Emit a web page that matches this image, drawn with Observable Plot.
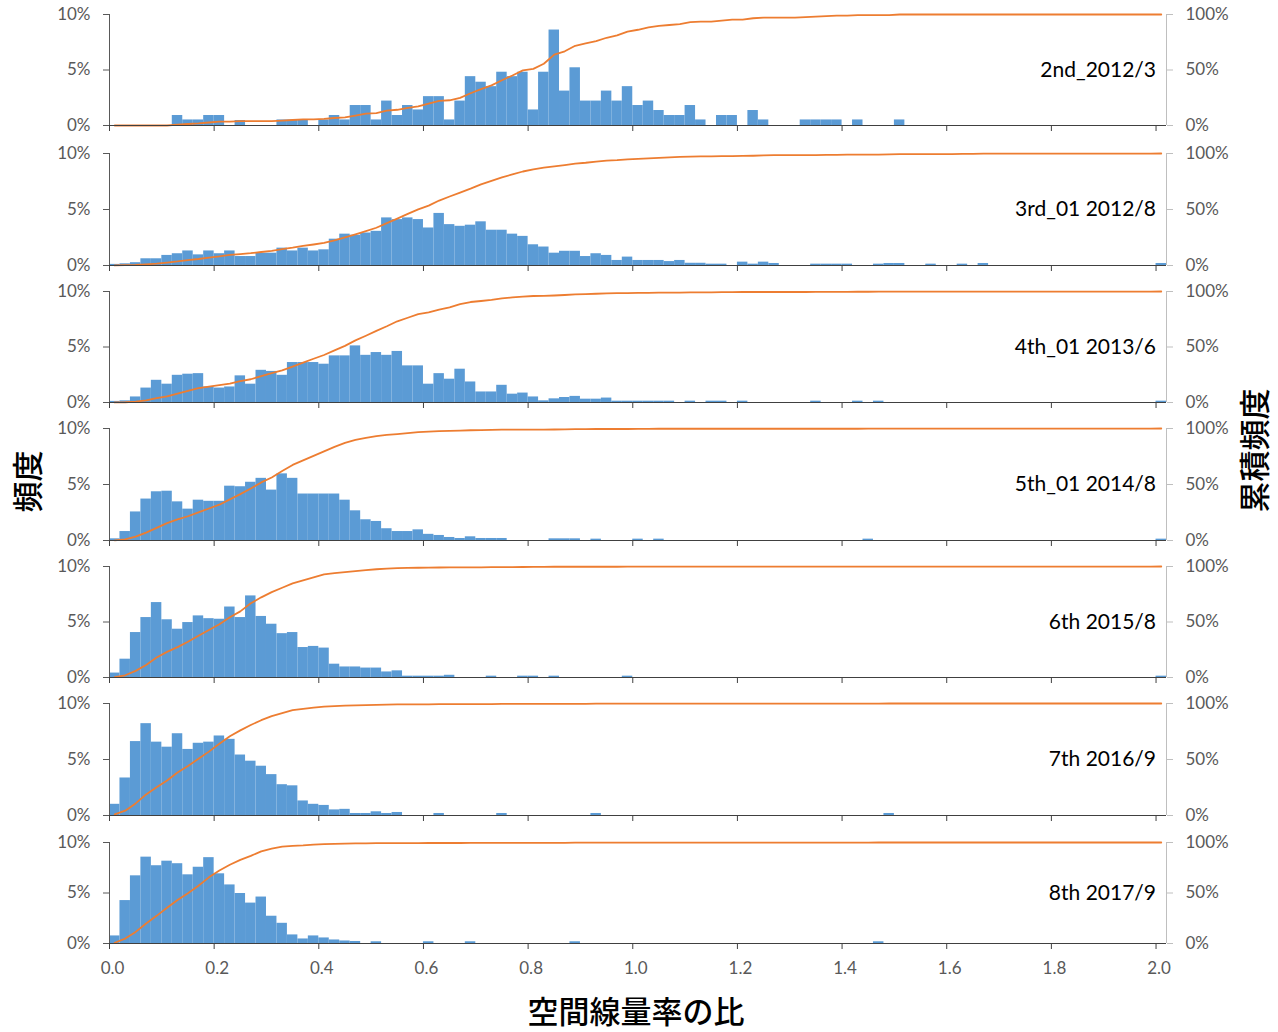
<!DOCTYPE html>
<html>
<head>
<meta charset="utf-8">
<script src="https://cdn.jsdelivr.net/npm/d3@7"></script>
<script src="https://cdn.jsdelivr.net/npm/@observablehq/plot@0.6"></script>
<style>
  html, body { margin: 0; padding: 0; background: #fff; }
  #chart { position: relative; width: 1278px; height: 1032px; background: #fff; overflow: hidden; }
  .panel { position: absolute; left: 0; }
  .title { position: absolute; font-family: "Noto Sans CJK JP", sans-serif; font-size: 31px; font-weight: 500; color: #000; white-space: nowrap; }
</style>
</head>
<body>
<div id="chart"></div>
<script>
// ---- Data (frequency in %, bins of 0.02 from 0.00 to 2.00; last bin = 2.00) ----
const binStart = d3.range(101).map(i => +(i * 0.02).toFixed(2));
const panelLabels = ["2nd_2012/3", "3rd_01 2012/8", "4th_01 2013/6", "5th_01 2014/8", "6th 2015/8", "7th 2016/9", "8th 2017/9"];
const xTickValues = [0, 0.2, 0.4, 0.6, 0.8, 1.0, 1.2, 1.4, 1.6, 1.8, 2.0];
const leftTicks = [0, 5, 10];          // %
const rightTickLabels = ["0%", "50%", "100%"];

const freq2nd = [
  0,0,0,0,0,0,0.9,0.5,0.5,0.9,
  0.9,0,0.45,0,0,0,0.5,0.5,0.5,0,
  0.5,0.9,0.5,1.8,1.8,0.5,2.2,0.9,1.8,1.4,
  2.6,2.6,0.5,2.2,4.4,3.9,3.5,4.8,4.4,4.8,
  1.4,4.8,8.6,3.1,5.2,2.2,2.2,3.1,2.2,3.5,
  1.8,2.2,1.35,0.9,0.9,1.8,0.5,0,0.9,0.9,
  0,1.35,0.5,0,0,0,0.5,0.5,0.5,0.5,
  0,0.5,0,0,0,0.5,0,0,0,0,
  0,0,0,0,0,0,0,0,0,0,
  0,0,0,0,0,0,0,0,0,0,
  0
];
const freq3rd = [
  0.1,0.15,0.25,0.6,0.6,0.9,1.05,1.3,0.95,1.3,
  1.05,1.3,0.8,0.8,1.1,1.1,1.55,1.3,1.55,1.3,
  1.4,2.35,2.8,2.7,2.9,3.05,4.25,4.1,4.25,4.1,
  3.35,4.65,3.65,3.5,3.6,3.9,3.15,3.15,2.8,2.6,
  1.85,1.65,1.1,1.27,1.27,0.8,1.05,0.9,0.45,0.75,
  0.45,0.45,0.45,0.35,0.45,0.2,0.2,0.12,0.12,0,
  0.3,0.12,0.3,0.18,0,0,0,0.12,0.12,0.12,
  0.12,0,0,0.12,0.18,0.18,0,0,0.12,0,
  0,0.12,0,0.18,0,0,0,0,0,0,
  0,0,0,0,0,0,0,0,0,0,
  0.18
];
const freq4th = [
  0.1,0.15,0.5,1.3,2.0,1.65,2.45,2.55,2.6,1.4,
  1.3,1.4,2.4,1.65,2.9,2.8,2.45,3.6,3.6,3.6,
  3.45,4.2,4.2,5.1,4.25,4.5,4.25,4.6,3.3,3.3,
  1.65,2.6,2.1,3.0,1.85,0.95,0.95,1.55,0.75,0.85,
  0.5,0.15,0.33,0.45,0.55,0.3,0.3,0.4,0.12,0.12,
  0.12,0.12,0.12,0.12,0,0.12,0,0.12,0.12,0,
  0.12,0,0,0,0,0,0,0.12,0,0,
  0,0.12,0,0.12,0,0,0,0,0,0,
  0,0,0,0,0,0,0,0,0,0,
  0,0,0,0,0,0,0,0,0,0,
  0.12
];
const freq5th = [
  0.15,0.8,2.55,3.7,4.35,4.4,3.45,2.8,3.6,3.5,
  3.5,4.85,4.8,5.2,5.55,4.5,5.95,5.55,4.15,4.15,
  4.15,4.15,3.6,2.65,1.85,1.7,1.05,0.8,0.8,0.95,
  0.55,0.45,0.27,0.18,0.33,0.18,0.18,0.18,0,0,
  0,0,0.15,0.15,0.15,0,0.12,0,0,0,
  0.12,0,0.12,0,0,0,0,0,0,0,
  0,0,0,0,0,0,0,0,0,0,
  0,0,0.12,0,0,0,0,0,0,0,
  0,0,0,0,0,0,0,0,0,0,
  0,0,0,0,0,0,0,0,0,0,
  0.12
];
const freq6th = [
  0.4,1.65,4.05,5.4,6.75,5.2,4.35,4.95,5.55,5.3,
  5.25,6.35,5.4,7.35,5.5,4.8,3.95,4.05,2.7,2.8,
  2.65,1.2,0.95,0.95,0.85,0.85,0.5,0.6,0.12,0.12,
  0.12,0.12,0.2,0,0,0,0.12,0,0,0.12,
  0.12,0,0.12,0,0,0,0,0,0,0.12,
  0,0,0,0,0,0,0,0,0,0,
  0,0,0,0,0,0,0,0,0,0,
  0,0,0,0,0,0,0,0,0,0,
  0,0,0,0,0,0,0,0,0,0,
  0,0,0,0,0,0,0,0,0,0,
  0.12
];
const freq7th = [
  1.0,3.35,6.6,8.2,6.55,6.1,7.3,5.9,6.45,6.55,
  7.1,6.8,5.4,4.85,4.4,3.65,2.75,2.65,1.3,1.0,
  0.9,0.5,0.55,0.18,0.18,0.33,0.18,0.27,0,0,
  0,0.18,0,0,0,0,0,0.18,0,0,
  0,0,0,0,0,0,0.18,0,0,0,
  0,0,0,0,0,0,0,0,0,0,
  0,0,0,0,0,0,0,0,0,0,
  0,0,0,0,0.18,0,0,0,0,0,
  0,0,0,0,0,0,0,0,0,0,
  0,0,0,0,0,0,0,0,0,0,
  0
];
const freq8th = [
  0.75,4.25,6.7,8.55,7.7,8.15,7.9,6.8,7.55,8.5,
  6.9,5.8,4.95,4.0,4.6,2.7,2.0,0.85,0.45,0.75,
  0.55,0.35,0.25,0.2,0,0.17,0,0,0,0,
  0.17,0,0,0,0.17,0,0,0,0,0,
  0,0,0,0,0.17,0,0,0,0,0,
  0,0,0,0,0,0,0,0,0,0,
  0,0,0,0,0,0,0,0,0,0,
  0,0,0,0.17,0,0,0,0,0,0,
  0,0,0,0,0,0,0,0,0,0,
  0,0,0,0,0,0,0,0,0,0,
  0
];
const series = [freq2nd, freq3rd, freq4th, freq5th, freq6th, freq7th, freq8th];

// ---- Layout ----
const W = 1278;
const plotTop = [14, 153, 291, 428, 566, 703, 842];
const plotBottom = [125, 265, 402, 540, 677, 815, 943];
const binW = 0.02;
const xMax = 2.02;
const blue = "#5B9BD5", orange = "#ED7D31", axisGray = "#595959";
const font = "Lato, 'Open Sans', sans-serif";

const chart = document.getElementById("chart");

series.forEach((vals, k) => {
  const total = d3.sum(vals);
  let run = 0;
  const data = vals.map((v, i) => {
    run += v;
    return {x0: binStart[i], v, cum: run / total * 100};
  });
  const last = k === series.length - 1;
  const mt = 10, mb = last ? 50 : 20;
  const h = plotBottom[k] - plotTop[k] + mt + mb;

  const marks = [
    Plot.rect(data, {x1: d => d.x0, x2: d => d.x0 + binW, y1: d => 0, y2: d => d.v, fill: blue}),
    Plot.line(data, {x: d => d.x0 + binW / 2, y: d => d.cum / 10, stroke: orange, strokeWidth: 1.8}),
    Plot.ruleX([xMax], {stroke: "#BFBFBF"}),
    Plot.ruleX([0], {stroke: axisGray}),
    Plot.ruleY([0], {stroke: "#404040"}),
    Plot.axisY({anchor: "left", ticks: leftTicks, tickSize: 6, tickPadding: 13,
      tickFormat: d => d + "%", fontSize: 17, color: axisGray, stroke: axisGray}),
    Plot.axisY({anchor: "right", ticks: leftTicks, tickSize: 6, tickPadding: 13,
      tickFormat: (d, i) => rightTickLabels[leftTicks.indexOf(d)], fontSize: 17, color: axisGray, stroke: "#BFBFBF"}),
    Plot.axisX({anchor: "bottom", ticks: xTickValues, tickSize: 6, tickFormat: () => "", stroke: "#404040"}),
    Plot.text([panelLabels[k]], {x: () => 2.0, y: () => 5, text: d => d, textAnchor: "end",
      fontSize: 21, fill: "#000"})
  ];
  if (last) {
    marks.push(Plot.axisX({anchor: "bottom", ticks: xTickValues, tickSize: 0, tickPadding: 18, dx: 3,
      tickFormat: d => d.toFixed(1), fontSize: 17, color: axisGray}));
  }

  const svg = Plot.plot({
    width: W, height: h,
    marginLeft: 109, marginRight: W - 1166, marginTop: mt, marginBottom: mb,
    x: {domain: [0, xMax], axis: null},
    y: {domain: [0, 10], axis: null},
    style: {fontFamily: font, fontSize: "17px", background: "transparent", overflow: "visible"},
    marks
  });
  const wrap = document.createElement("div");
  wrap.className = "panel";
  wrap.style.top = (plotTop[k] - mt) + "px";
  wrap.appendChild(svg);
  chart.appendChild(wrap);
});

// ---- Axis titles ----
function addTitle(text, cx, cy, rotate) {
  const el = document.createElement("div");
  el.className = "title";
  el.textContent = text;
  chart.appendChild(el);
  const r = el.getBoundingClientRect();
  el.style.left = (cx - r.width / 2) + "px";
  el.style.top = (cy - r.height / 2) + "px";
  if (rotate) el.style.transform = "rotate(-90deg)";
}
addTitle("頻度", 25, 481, true);
addTitle("累積頻度", 1252, 450, true);
addTitle("空間線量率の比", 636, 1009, false);
</script>
</body>
</html>
